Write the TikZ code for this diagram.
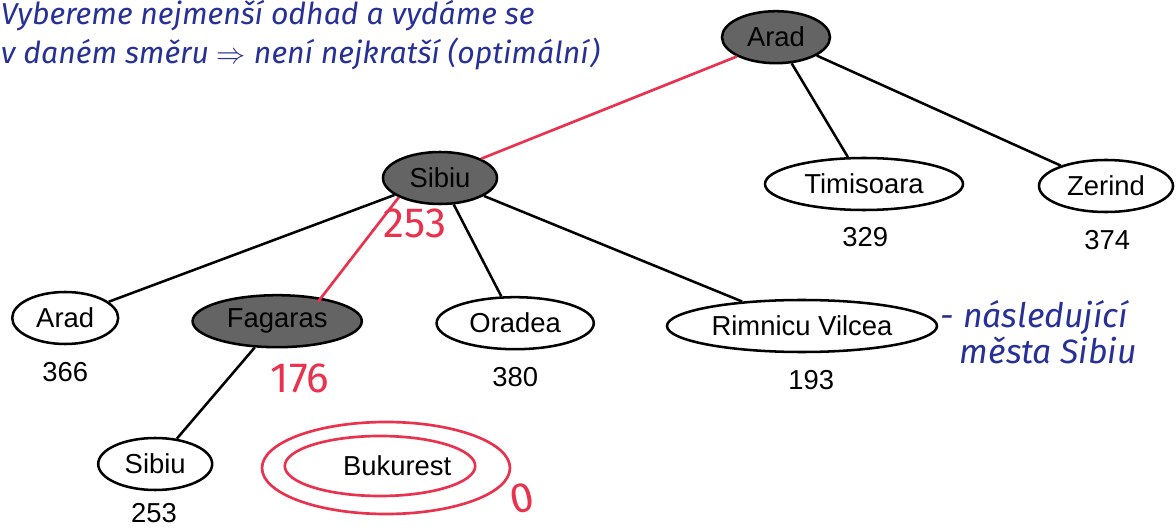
\documentclass[tikz,border=0pt]{standalone}
\usepackage{fontspec}
\setmainfont{Liberation Sans}
\newfontfamily\handfont{Fira Sans}
\definecolor{ink}{RGB}{38, 48, 150}
\definecolor{marker}{RGB}{232, 50, 78}
\definecolor{visited}{RGB}{100, 100, 100}
\usetikzlibrary{shapes.geometric}

\begin{document}
\begin{tikzpicture}[
        every node/.style={font=\fontsize{19.5}{22}\selectfont, align=center},
        city/.style={ellipse, draw=black, line width=1.8pt, minimum height=1.3cm, inner sep=1pt},
        citynode/.style={city, fill=white},
        expnode/.style={city, fill=visited},
        hval/.style={font=\fontsize{19.5}{22}\selectfont},
        inknote/.style={text=ink, font=\handfont\itshape\fontsize{21.5}{28}\selectfont, align=left},
        rednum/.style={text=marker, font=\handfont\fontsize{30}{32}\selectfont},
        line/.style={line width=1.8pt},
        redline/.style={draw=marker, line width=1.9pt}
    ]
        \useasboundingbox (0,0) rectangle (29.4,-13.2);

        % root
        \node[expnode, minimum width=2.7cm]  (arad)      at (19.40,-0.93) {Arad};

        % first level
        \node[expnode, minimum width=2.85cm]  (sibiu)     at (11.00,-4.45) {Sibiu};
        \node[citynode, minimum width=4.95cm] (timisoara) at (21.60,-4.60) {Timisoara};
        \node[citynode, minimum width=3.35cm] (zerind)    at (27.65,-4.65) {Zerind};
        \node[hval] (h329) at (21.63,-5.93) {329};
        \node[hval] (h374) at (27.68,-6.00) {374};

        % second level
        \node[citynode, minimum width=2.65cm] (aradb)   at (1.63,-7.95)  {Arad};
        \node[expnode, minimum width=4.23cm]  (fagaras) at (6.93,-8.03)  {Fagaras};
        \node[citynode, minimum width=3.93cm] (oradea)  at (12.88,-8.08) {Oradea};
        \node[citynode, minimum width=6.75cm] (rimnicu) at (20.05,-8.15) {Rimnicu Vilcea};
        \node[hval] (h366) at (1.63,-9.30)  {366};
        \node[hval] (h380) at (12.88,-9.43) {380};
        \node[hval] (h193) at (20.28,-9.50) {193};

        % third level
        \node[citynode, minimum width=2.85cm] (sibiuc)   at (3.88,-11.60) {Sibiu};
        \node (bukurest) at (9.93,-11.65) {Bukurest};
        \node[hval] (h253) at (3.85,-12.82) {253};

        \draw[line] (arad) -- (timisoara);
        \draw[line] (arad) -- (zerind);
        \draw[line] (sibiu) -- (aradb);
        \draw[line] (sibiu) -- (oradea);
        \draw[line] (sibiu) -- (rimnicu);
        \draw[line] (fagaras) -- (sibiuc);

        % greedy path
        \draw[redline] (arad.south west) -- (sibiu.north east);
        \draw[redline] (sibiu.south west) -- ([xshift=-0.5cm]fagaras.north east);
        \draw[redline] ([xshift=-0.43cm]bukurest.center) ellipse [x radius=2.38cm, y radius=0.75cm];
        \draw[redline] ([xshift=-0.28cm, yshift=-0.05cm]bukurest.center) ellipse [x radius=3.1cm, y radius=1.15cm];
        \node[rednum] (g253) at (10.38,-5.58) {253};
        \node[rednum] (g176) at (7.50,-9.45)  {176};
        \node[rednum, rotate=12] (g0) at (13.05,-12.45) {0};

        % notes
        \node[inknote, anchor=north west] (remark) at (-0.1,0.12)
            {Vybereme nejmenší odhad a vydáme se\\v daném směru $\Rightarrow$ není nejkratší (optimální)};
        \node[inknote, font=\handfont\itshape\fontsize{24}{26}\selectfont, anchor=west] (succnote) at (23.40,-8.30)
            {- následující\\\phantom{-\,}města Sibiu};
    \end{tikzpicture}
\end{document}
